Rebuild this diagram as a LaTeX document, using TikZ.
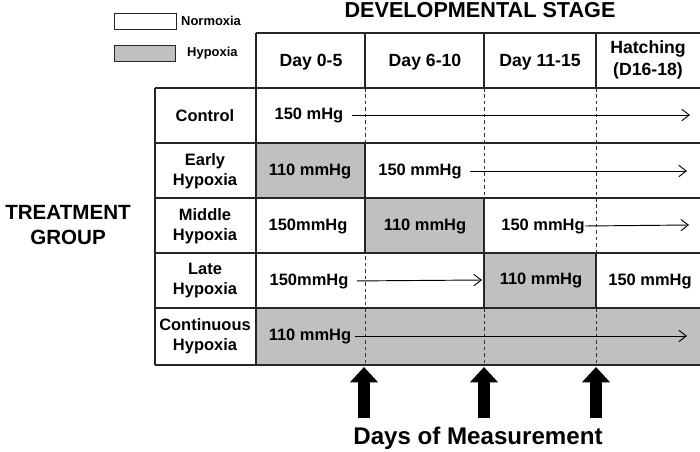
\documentclass[tikz,border=0pt]{standalone}
\usepackage{fontspec}
\setmainfont{Liberation Sans}
\usetikzlibrary{arrows.meta}

\definecolor{hypo}{RGB}{192,192,192}
\tikzset{
  cell/.style={font=\bfseries\fontsize{14}{17}\selectfont, align=center, inner sep=0pt},
  head/.style={font=\bfseries\fontsize{15}{18}\selectfont, align=center, inner sep=0pt},
  big/.style={font=\bfseries\fontsize{17.5}{21}\selectfont, align=center, inner sep=0pt},
  key/.style={font=\bfseries\fontsize{11}{13}\selectfont, anchor=west, inner sep=0pt},
  grid/.style={line width=1.1pt, draw=black!85},
  sep/.style={line width=0.8pt, draw=black!80, dash pattern=on 3pt off 2.5pt},
  flow/.style={-{Straight Barb[length=2.2mm,width=3.4mm]}, line width=0.8pt, shorten <=7pt},
  measure/.style={-{Triangle[length=13pt,width=23pt]}, line width=10pt},
}

\begin{document}
\begin{tikzpicture}[x=0.85pt,y=-0.85pt]
\useasboundingbox (0,0) rectangle (700,451);

% hypoxia cells
\fill[hypo] (256,143) rectangle (365,198);
\fill[hypo] (365,198) rectangle (484,253);
\fill[hypo] (484,253) rectangle (596,308);
\fill[hypo] (256,308) rectangle (700,365);

% legend
\draw[grid, line width=0.8pt] (114,13) rectangle (176,29);
\filldraw[grid, line width=0.8pt, fill=hypo] (114,45) rectangle (175,61);
\node[key] (normo) at (181,21) {Normoxia};
\node[key] (hyp) at (187,53) {Hypoxia};

% day separators
\draw[sep] (365,88) -- (365,365);
\draw[sep] (484,88) -- (484,365);
\draw[sep] (596,88) -- (596,365);

% table
\draw[grid] (256,33) -- (700,33);
\draw[grid] (155,88) -- (700,88);
\draw[grid] (155,143) -- (700,143);
\draw[grid] (155,198) -- (700,198);
\draw[grid] (155,253) -- (700,253);
\draw[grid] (155,308) -- (700,308);
\draw[grid, line width=1.5pt] (155,365) -- (700,365);
\draw[grid] (155,88) -- (155,365);
\draw[grid] (256,33) -- (256,365);
\draw[grid] (365,33) -- (365,88);
\draw[grid] (484,33) -- (484,88);
\draw[grid] (596,33) -- (596,88);
\draw[grid] (365,143) -- (365,253);
\draw[grid] (484,198) -- (484,308);
\draw[grid] (596,253) -- (596,308);

% headings
\node[big, font=\bfseries\fontsize{18.4}{21}\selectfont] (stage) at (480,10) {DEVELOPMENTAL STAGE};
\node[big] (group) at (68,225) {TREATMENT\\GROUP};
\node[head] (d1) at (311,62) {Day 0-5};
\node[head] (d2) at (425,62) {Day 6-10};
\node[head] (d3) at (540,62) {Day 11-15};
\node[head] (d4) at (648,60) {Hatching\\(D16-18)};

% treatment groups
\node[cell] (control) at (205,116) {Control};
\node[cell] (early) at (205,171) {Early\\Hypoxia};
\node[cell] (middle) at (205,226) {Middle\\Hypoxia};
\node[cell] (late) at (205,281) {Late\\Hypoxia};
\node[cell] (cont) at (205,336) {Continuous\\Hypoxia};

% oxygen levels
\node[cell] (c1) at (309,115) {150 mHg};
\coordinate (c1end) at (690,115);
\draw[flow] (c1.east) -- (c1end);

\node[cell] (e1) at (310,171) {110 mmHg};
\node[cell] (e2) at (420,171) {150 mmHg};
\coordinate (e2end) at (687,171);
\draw[flow] (e2.east) -- (e2end);

\node[cell] (m1) at (308,226) {150mmHg};
\node[cell] (m2) at (425,226) {110 mmHg};
\node[cell] (m3) at (543,226) {150 mmHg};
\coordinate (m3end) at (689,225);
\draw[flow, shorten <=0pt] (m3.east) -- (m3end);

\node[cell] (l1) at (309,281) {150mmHg};
\coordinate (l1end) at (482,280);
\draw[flow] (l1.east) -- (l1end);
\node[cell] (l2) at (541,280) {110 mmHg};
\node[cell] (l3) at (650,281) {150 mmHg};

\node[cell] (k1) at (310,336) {110 mmHg};
\coordinate (k1end) at (687,336);
\draw[flow, shorten <=3pt] (k1.east) -- (k1end);

% measurement days
\coordinate (a1) at (364,418);
\coordinate (t1) at (364,367);
\coordinate (a2) at (484,418);
\coordinate (t2) at (484,367);
\coordinate (a3) at (596,418);
\coordinate (t3) at (596,367);
\draw[measure] (a1) -- (t1);
\draw[measure] (a2) -- (t2);
\draw[measure] (a3) -- (t3);
\node[font=\bfseries\fontsize{20.5}{24}\selectfont, inner sep=0pt] (meas) at (478,438) {Days of Measurement};
\end{tikzpicture}
\end{document}
